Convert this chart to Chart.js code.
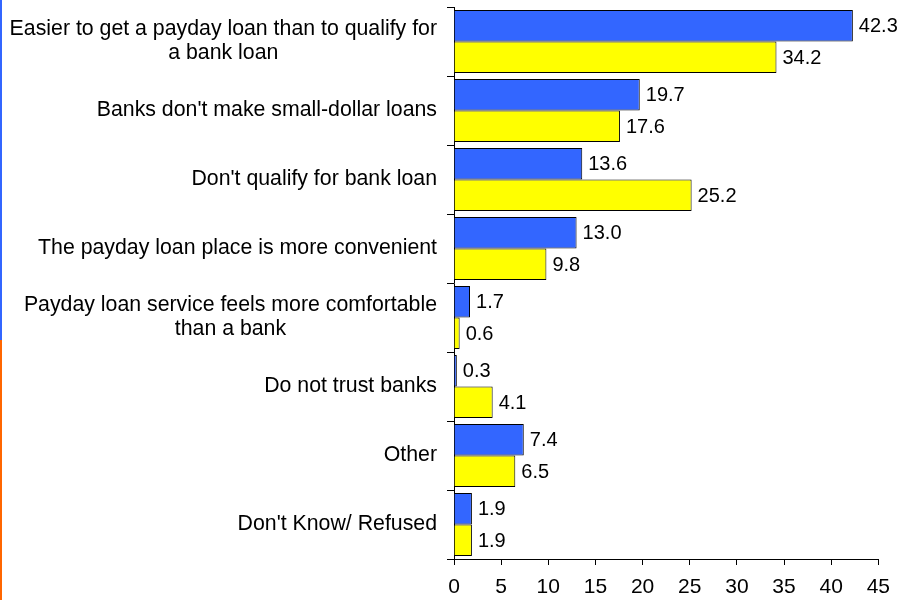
<!DOCTYPE html>
<html>
<head>
<meta charset="utf-8">
<script src="https://cdn.jsdelivr.net/npm/chart.js@4/dist/chart.umd.min.js"></script>
<style>
  html, body { margin: 0; padding: 0; background: #fff; }
  #wrap { position: relative; width: 900px; height: 600px; }
  #stripA { position: absolute; left: 0; top: 0; width: 2px; height: 340px; background: #3366FF; }
  #stripB { position: absolute; left: 0; top: 340px; width: 2px; height: 260px; background: #FF6600; }
</style>
</head>
<body>
<div id="wrap">
  <canvas id="c" width="900" height="600"></canvas>
  <div id="stripA"></div>
  <div id="stripB"></div>
</div>
<script>
const categories = [
  ["Easier to get a payday loan than to qualify for", "a bank loan"],
  ["Banks don't make small-dollar loans"],
  ["Don't qualify for bank loan"],
  ["The payday loan place is more convenient"],
  ["Payday loan service feels more comfortable", "than a bank"],
  ["Do not trust banks"],
  ["Other"],
  ["Don't Know/ Refused"]
];
const seriesBlue = [42.3, 19.7, 13.6, 13.0, 1.7, 0.3, 7.4, 1.9];
const seriesYellow = [34.2, 17.6, 25.2, 9.8, 0.6, 4.1, 6.5, 1.9];
const xTicks = [0, 5, 10, 15, 20, 25, 30, 35, 40, 45];

const FONT = '"Liberation Sans", Arial, sans-serif';

const yLabelPlugin = {
  id: 'yLabels',
  afterDraw(chart) {
    const ctx = chart.ctx;
    const ys = chart.scales.y;
    ctx.save();
    ctx.font = '21.3px ' + FONT;
    ctx.fillStyle = '#000';
    ctx.textBaseline = 'middle';
    ctx.textAlign = 'center';
    const rightEdge = ys.right - 17;
    const lh = 24;
    categories.forEach((lines, i) => {
      const yc = ys.getPixelForValue(i);
      const w = Math.max(...lines.map(l => ctx.measureText(l).width));
      const cx = rightEdge - w / 2;
      const y0 = yc - (lines.length - 1) * lh / 2;
      lines.forEach((l, k) => ctx.fillText(l, cx, y0 + k * lh));
    });
    ctx.restore();
  }
};

const valueLabelPlugin = {
  id: 'valueLabels',
  afterDatasetsDraw(chart) {
    const ctx = chart.ctx;
    ctx.save();
    ctx.font = '20px ' + FONT;
    ctx.fillStyle = '#000';
    ctx.textBaseline = 'middle';
    ctx.textAlign = 'left';
    chart.data.datasets.forEach((ds, di) => {
      const meta = chart.getDatasetMeta(di);
      meta.data.forEach((bar, i) => {
        ctx.fillText(ds.data[i].toFixed(1), bar.x + 6, bar.y + 1);
      });
    });
    ctx.restore();
  }
};

new Chart(document.getElementById('c'), {
  type: 'bar',
  data: {
    labels: categories,
    datasets: [
      { data: seriesBlue, backgroundColor: '#3366FF', borderColor: '#000', borderWidth: 1,
        categoryPercentage: 0.91, barPercentage: 1 },
      { data: seriesYellow, backgroundColor: '#FFFF00', borderColor: '#000', borderWidth: 1,
        categoryPercentage: 0.91, barPercentage: 1 }
    ]
  },
  options: {
    indexAxis: 'y',
    responsive: false,
    animation: false,
    layout: { padding: { top: 7, right: 21, left: 0, bottom: 0 } },
    plugins: { legend: { display: false }, tooltip: { enabled: false } },
    scales: {
      x: {
        min: 0, max: 45,
        afterBuildTicks(scale) { scale.ticks = xTicks.map(v => ({ value: v })); },
        afterFit(scale) { scale.height = 41; },
        grid: { drawOnChartArea: false, color: '#000', tickLength: 6, lineWidth: 1 },
        border: { color: '#000', width: 1 },
        ticks: { color: '#000', font: { family: FONT, size: 21 }, padding: 10, maxRotation: 0 }
      },
      y: {
        afterFit(scale) { scale.width = 454; },
        grid: { drawOnChartArea: false, color: '#000', tickLength: 7, offset: true },
        border: { color: '#000', width: 1 },
        ticks: { display: false }
      }
    }
  },
  plugins: [yLabelPlugin, valueLabelPlugin]
});
</script>
</body>
</html>
